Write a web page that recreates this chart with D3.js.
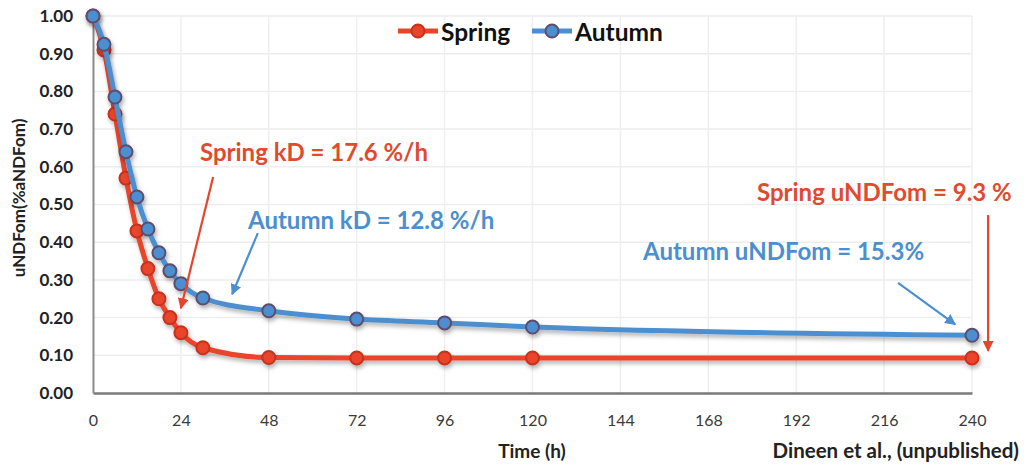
<!DOCTYPE html>
<html>
<head>
<meta charset="utf-8">
<script src="https://cdn.jsdelivr.net/npm/d3@7"></script>
<style>
  body { margin: 0; background: #ffffff; }
  svg { display: block; }
</style>
</head>
<body>
<svg id="chart" width="1024" height="464"></svg>
<script>
// Incubation time points (h) and the undigested NDF fraction for each season
const timeHours    = [0, 3, 6, 9, 12, 15, 18, 21, 24, 30, 48, 72, 96, 120, 240];
const springValues = [1.00, 0.91, 0.74, 0.57, 0.43, 0.33, 0.25, 0.20, 0.16, 0.12, 0.094, 0.093, 0.093, 0.093, 0.093];
const autumnValues = [1.00, 0.925, 0.785, 0.64, 0.52, 0.435, 0.372, 0.324, 0.29, 0.252, 0.218, 0.196, 0.186, 0.175, 0.153];
const seriesNames  = ["Spring", "Autumn"];

const xTickValues = [0, 24, 48, 72, 96, 120, 144, 168, 192, 216, 240];
const yTickValues = [0, 0.1, 0.2, 0.3, 0.4, 0.5, 0.6, 0.7, 0.8, 0.9, 1.0];

// Callout texts with arrow start/end in data units (hours, fraction)
const calloutTexts  = ["Spring kD = 17.6 %/h", "Autumn kD = 12.8 %/h", "Spring uNDFom = 9.3 %", "Autumn uNDFom = 15.3%"];
const calloutSeries = ["Spring", "Autumn", "Spring", "Autumn"];
const calloutArrowFrom = [[32.8, 0.573], [45.0, 0.424], [244.4, 0.472], [219.8, 0.292]];
const calloutArrowTo   = [[24.0, 0.225], [38.0, 0.262], [244.4, 0.112], [235.4, 0.182]];

const colors = { Spring: "#e8442b", Autumn: "#4b8fd1" };
const markerStroke = { Spring: "#c7321d", Autumn: "#5e4d6c" };
const textColors = { Spring: "#df4b2e", Autumn: "#4b8fcf" };

const svg = d3.select("#chart");
const x = d3.scaleLinear().domain([0, 240]).range([93, 972]);
const y = d3.scaleLinear().domain([0, 1]).range([393, 16]);

const defs = svg.append("defs");
const shadow = defs.append("filter").attr("id", "shadow")
  .attr("x", "-10%").attr("y", "-10%").attr("width", "120%").attr("height", "140%");
shadow.append("feDropShadow").attr("dx", 1.5).attr("dy", 3).attr("stdDeviation", 2)
  .attr("flood-color", "#000").attr("flood-opacity", 0.3);

seriesNames.forEach(name => {
  defs.append("marker").attr("id", "arrow-" + name)
    .attr("viewBox", "0 0 10 10").attr("refX", 9).attr("refY", 5)
    .attr("markerWidth", 5).attr("markerHeight", 5).attr("markerUnits", "strokeWidth")
    .attr("orient", "auto")
    .append("path").attr("d", "M0,0 L10,5 L0,10 z").attr("fill", colors[name]);
});

// Gridlines
const grid = svg.append("g");
grid.selectAll("line.h").data(yTickValues.slice(1)).join("line")
  .attr("x1", x(0)).attr("x2", x(240))
  .attr("y1", d => y(d)).attr("y2", d => y(d))
  .attr("stroke", "#ededed").attr("stroke-width", 1.5);
grid.selectAll("line.v").data(xTickValues.slice(1)).join("line")
  .attr("x1", d => x(d)).attr("x2", d => x(d))
  .attr("y1", y(1)).attr("y2", y(0))
  .attr("stroke", "#efefef").attr("stroke-width", 1.5);

// Axes
const xAxis = d3.axisBottom(x).tickValues(xTickValues).tickSize(0).tickFormat(d3.format("d"));
const yAxis = d3.axisLeft(y).tickValues(yTickValues).tickSize(0).tickPadding(20).tickFormat(d3.format(".2f"));

const gx = svg.append("g").attr("transform", `translate(0,${y(0)})`).call(xAxis);
gx.select(".domain").attr("stroke", "#7a7a7a").attr("stroke-width", 2.5);
gx.selectAll("text").attr("font-family", "Lato, sans-serif").attr("font-size", 16)
  .attr("fill", "#3a3a3a").attr("dy", "0.35em").attr("y", 27);

const gy = svg.append("g").attr("transform", `translate(${x(0)},0)`).call(yAxis);
gy.select(".domain").attr("stroke", "#8a8a8a").attr("stroke-width", 2);
gy.selectAll("text").attr("font-family", "Lato, sans-serif").attr("font-size", 17)
  .attr("font-weight", "bold").attr("fill", "#222");

// Axis titles and source note
svg.append("text").attr("x", 18).attr("y", 198)
  .attr("transform", "rotate(-90,18,198)")
  .attr("text-anchor", "middle").attr("dominant-baseline", "central")
  .attr("font-family", "Lato, sans-serif").attr("font-weight", "bold").attr("font-size", 17)
  .attr("fill", "#222").text("uNDFom(%aNDFom)");

svg.append("text").attr("x", 532).attr("y", 450)
  .attr("text-anchor", "middle").attr("dominant-baseline", "central")
  .attr("font-family", "Lato, sans-serif").attr("font-weight", "bold").attr("font-size", 19)
  .attr("fill", "#222").text("Time (h)");

svg.append("text").attr("x", 1019).attr("y", 450)
  .attr("text-anchor", "end").attr("dominant-baseline", "central")
  .attr("font-family", "Lato, sans-serif").attr("font-weight", "bold").attr("font-size", 20.5)
  .attr("fill", "#222").text("Dineen et al., (unpublished)");

// Series
const seriesData = {
  Spring: timeHours.map((t, i) => ({ t, v: springValues[i] })),
  Autumn: timeHours.map((t, i) => ({ t, v: autumnValues[i] }))
};
const line = d3.line().x(d => x(d.t)).y(d => y(d.v)).curve(d3.curveMonotoneX);

seriesNames.forEach(name => {
  const g = svg.append("g").attr("filter", "url(#shadow)");
  g.append("path").datum(seriesData[name]).attr("d", line)
    .attr("fill", "none").attr("stroke", colors[name]).attr("stroke-width", 5)
    .attr("stroke-linejoin", "round");
  g.selectAll("circle").data(seriesData[name]).join("circle")
    .attr("cx", d => x(d.t)).attr("cy", d => y(d.v)).attr("r", 6.5)
    .attr("fill", colors[name]).attr("stroke", markerStroke[name]).attr("stroke-width", 2);
});

// Legend
const legendX = [398, 532];
seriesNames.forEach((name, i) => {
  const lg = svg.append("g").attr("transform", `translate(${legendX[i]},31)`);
  lg.append("line").attr("x1", 0).attr("x2", 40).attr("y1", 0).attr("y2", 0)
    .attr("stroke", colors[name]).attr("stroke-width", 5);
  lg.append("circle").attr("cx", 20).attr("cy", 0).attr("r", 6.5)
    .attr("fill", colors[name]).attr("stroke", markerStroke[name]).attr("stroke-width", 2);
  lg.append("text").attr("x", 43).attr("y", 0).attr("dominant-baseline", "central")
    .attr("font-family", "Lato, sans-serif").attr("font-weight", "bold").attr("font-size", 24.5)
    .attr("fill", "#111").text(name);
});

// Callouts
const calloutPos = [[200, 161], [248, 229], [757, 201], [643, 260]];
calloutTexts.forEach((txt, i) => {
  const s = calloutSeries[i];
  const a = calloutArrowFrom[i], b = calloutArrowTo[i];
  svg.append("line")
    .attr("x1", x(a[0])).attr("y1", y(a[1])).attr("x2", x(b[0])).attr("y2", y(b[1]))
    .attr("stroke", colors[s]).attr("stroke-width", 2.2)
    .attr("marker-end", `url(#arrow-${s})`);
  svg.append("text").attr("x", calloutPos[i][0]).attr("y", calloutPos[i][1])
    .attr("font-family", "Lato, sans-serif").attr("font-weight", "bold").attr("font-size", 24)
    .attr("fill", textColors[s]).text(txt);
});
</script>
</body>
</html>
